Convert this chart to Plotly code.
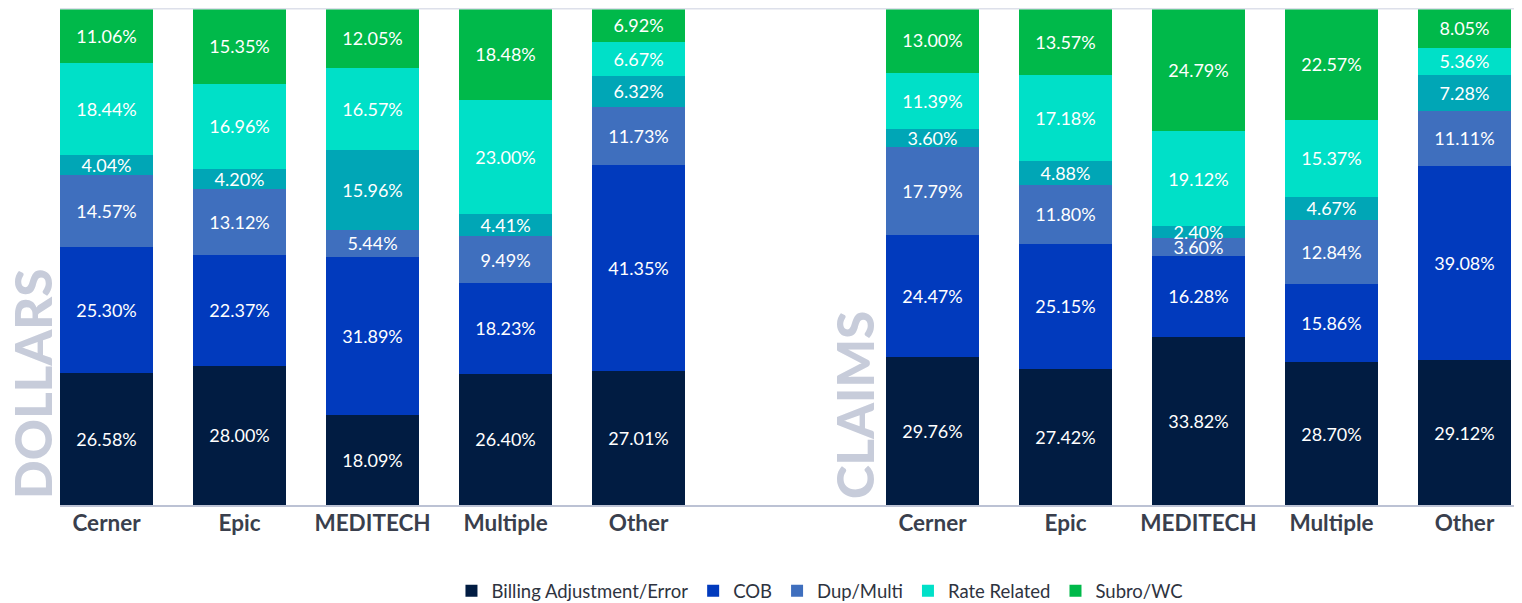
import plotly.graph_objects as go

categories = ["Cerner", "Epic", "MEDITECH", "Multiple", "Other"]
series_names = ["Billing Adjustment/Error", "COB", "Dup/Multi", "Other Teal", "Rate Related", "Subro/WC"]
show_in_legend = [True, True, True, False, True, True]

dollars_billing = [26.58, 28.00, 18.09, 26.40, 27.01]
dollars_cob = [25.30, 22.37, 31.89, 18.23, 41.35]
dollars_dup = [14.57, 13.12, 5.44, 9.49, 11.73]
dollars_teal = [4.04, 4.20, 15.96, 4.41, 6.32]
dollars_rate = [18.44, 16.96, 16.57, 23.00, 6.67]
dollars_subro = [11.06, 15.35, 12.05, 18.48, 6.92]

claims_billing = [29.76, 27.42, 33.82, 28.70, 29.12]
claims_cob = [24.47, 25.15, 16.28, 15.86, 39.08]
claims_dup = [17.79, 11.80, 3.60, 12.84, 11.11]
claims_teal = [3.60, 4.88, 2.40, 4.67, 7.28]
claims_rate = [11.39, 17.18, 19.12, 15.37, 5.36]
claims_subro = [13.00, 13.57, 24.79, 22.57, 8.05]

colors = ["#011c42", "#013abd", "#3f6fbe", "#00a6b6", "#00e0c8", "#00b94a"]

dollars = [dollars_billing, dollars_cob, dollars_dup, dollars_teal, dollars_rate, dollars_subro]
claims = [claims_billing, claims_cob, claims_dup, claims_teal, claims_rate, claims_subro]

FONT = "Lato"
fig = go.Figure()

for panel, data, xa in [("dollars", dollars, "x"), ("claims", claims, "x2")]:
    for i, name in enumerate(series_names):
        fig.add_trace(go.Bar(
            x=categories, y=data[i], name=name, xaxis=xa, yaxis="y",
            marker=dict(color=colors[i], line=dict(width=0)),
            texttemplate="%{y:.2f}%", textposition="inside",
            insidetextanchor="middle", constraintext="none",
            textfont=dict(color="white", size=18, family=FONT),
            showlegend=(show_in_legend[i] and panel == "dollars"),
            legendgroup=name,
            hoverinfo="skip",
        ))

split = 0.4976
tickfont = dict(size=22.5, family=FONT, color="#3a3f4d", weight="bold")
fig.update_layout(
    width=1522, height=603,
    margin=dict(l=52, r=13, t=0, b=106, autoexpand=False),
    barmode="stack", bargap=0.3,
    plot_bgcolor="white", paper_bgcolor="white",
    uniformtext=dict(minsize=17, mode="show"),
    font=dict(family=FONT, color="#3a3f4d"),
    xaxis=dict(domain=[0, split], range=[-0.35, 5.101], showgrid=False, ticks="",
               showline=True, linecolor="#bcc2d4", linewidth=2, automargin=False,
               ticklabelstandoff=-3, tickfont=tickfont),
    xaxis2=dict(domain=[split, 1], range=[-1.109, 4.395], showgrid=False, ticks="",
                showline=True, linecolor="#bcc2d4", linewidth=2, anchor="y", automargin=False,
                ticklabelstandoff=-3, tickfont=tickfont),
    yaxis=dict(range=[0, 100], visible=False, showgrid=False, automargin=False),
    legend=dict(orientation="h", x=0.5216, xanchor="center", yref="container", y=0.033,
                yanchor="middle", font=dict(size=18.5, family=FONT, color="#2e3340"),
                traceorder="normal"),
    shapes=[dict(type="line", xref="paper", yref="paper", x0=0, x1=1, y0=1, y1=1,
                 line=dict(color="#dde0ea", width=3))],
    annotations=[
        dict(text="DOLLARS", xref="paper", yref="paper", x=(32 - 60) / 1457, y=0.01,
             xanchor="center", yanchor="bottom", textangle=-90, showarrow=False,
             borderpad=0,
             font=dict(size=51, family=FONT, color="#c7ccda", weight=900)),
        dict(text="CLAIMS", xref="paper", yref="paper", x=(854 - 60) / 1457, y=0.01,
             xanchor="center", yanchor="bottom", textangle=-90, showarrow=False,
             borderpad=0,
             font=dict(size=51, family=FONT, color="#c7ccda", weight=900)),
    ],
)

fig.write_html("out.html")
